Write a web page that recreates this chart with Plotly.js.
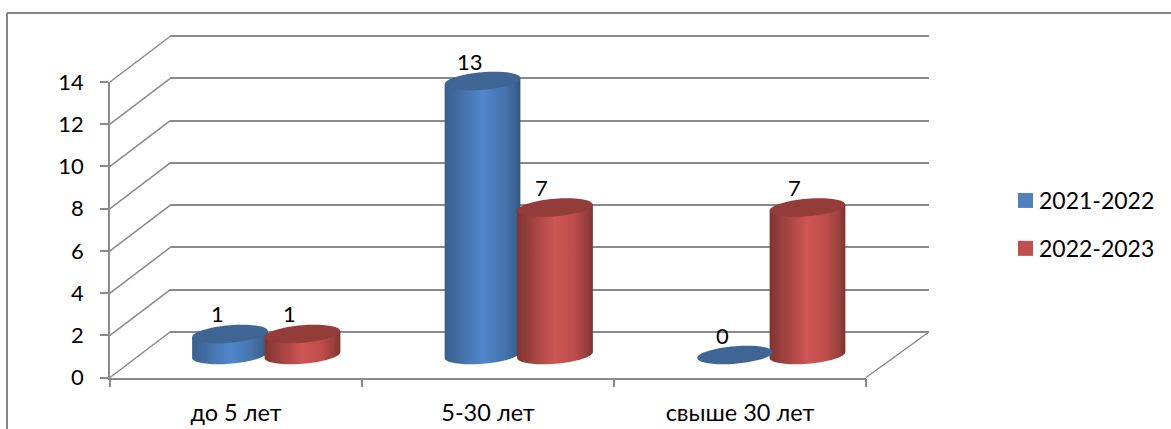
<!DOCTYPE html>
<html>
<head>
<meta charset="utf-8">
<script src="https://cdn.plot.ly/plotly-3.0.1.min.js"></script>
<style>html,body{margin:0;padding:0;background:#fff}#chart{width:1171px;height:429px}</style>
</head>
<body>
<div id="chart"></div>
<script>
const categories = ['до 5 лет', '5-30 лет', 'свыше 30 лет'];
const series2021 = [1, 13, 0];
const series2022 = [1, 7, 7];
const seriesNames = ['2021-2022', '2022-2023'];
const yTicks = [0, 2, 4, 6, 8, 10, 12, 14];

const W = 1171, H = 429, FONT = 'Lato, Carlito, sans-serif', GRAY = '#8a8a8a';
const dx = v => v / W, dy = v => (H - v) / H;
const BW = 0.30, OFF = 0.1435;           // bar width and half-spacing, category units
const TILT = 3, MINOR = 8.8;             // cylinder cap geometry, px
const K = 0.5523;

function fullCap(a) {                    // y is up in pixel-sized shapes
  const m = (u, v) => (a * u).toFixed(2) + ',' + (TILT * u + MINOR * v).toFixed(2);
  return 'M' + m(-1, 0) +
    'C' + m(-1, K) + ' ' + m(-K, 1) + ' ' + m(0, 1) +
    'C' + m(K, 1) + ' ' + m(1, K) + ' ' + m(1, 0) +
    'C' + m(1, -K) + ' ' + m(K, -1) + ' ' + m(0, -1) +
    'C' + m(-K, -1) + ' ' + m(-1, -K) + ' ' + m(-1, 0) + 'Z';
}

const traces = [
  {type: 'scatter', x: [], y: [], xaxis: 'x', yaxis: 'y', showlegend: false, hoverinfo: 'skip'},
  {type: 'scatter', x: [], y: [], xaxis: 'x2', yaxis: 'y2', showlegend: false, hoverinfo: 'skip'},
  {type: 'bar', name: seriesNames[0], x: categories, y: series2021, xaxis: 'x3', yaxis: 'y3',
   width: BW, offset: -OFF - BW / 2, marker: {color: '#4F81BD'}, cliponaxis: false, legendgroup: 'a'},
  {type: 'bar', name: seriesNames[1], x: categories, y: series2022, xaxis: 'x3', yaxis: 'y3',
   width: BW, offset: OFF - BW / 2, marker: {color: '#C0504D'}, cliponaxis: false, legendgroup: 'b'}
];

const shapes = [
  {type: 'line', xref: 'paper', yref: 'paper', x0: dx(7), x1: 1, y0: dy(13), y1: dy(13), line: {color: '#868686', width: 2}},
  {type: 'line', xref: 'paper', yref: 'paper', x0: dx(7), x1: dx(7), y0: dy(13), y1: 0, line: {color: '#868686', width: 2}},
  {type: 'line', xref: 'x', yref: 'y', xsizemode: 'pixel', ysizemode: 'pixel', xanchor: 2.5, yanchor: 0,
   x0: 0, x1: 63, y0: 0, y1: 45.5, layer: 'below', line: {color: GRAY, width: 1.5}}
];
yTicks.forEach(v => shapes.push({type: 'line', xref: 'x', yref: 'y', xsizemode: 'pixel', ysizemode: 'pixel',
  xanchor: -0.5, yanchor: v, x0: 0, x1: 60, y0: 0, y1: 45.5, layer: 'below', line: {color: GRAY, width: 1.5}}));

const annotations = [];
[[series2021, -OFF, '#3F6594'], [series2022, OFF, '#943C3A']].forEach(([vals, off, cap]) => {
  vals.forEach((v, i) => {
    shapes.push({type: 'path', xref: 'x3', yref: 'y3', xsizemode: 'pixel', ysizemode: 'pixel',
      xanchor: i + off, yanchor: v, path: fullCap(37.8), fillcolor: cap, line: {width: 0}});
    annotations.push({xref: 'x3', yref: 'y3', x: i + off, y: v, xshift: -13, yshift: 20, text: String(v),
      showarrow: false, font: {family: FONT, size: 22, color: '#000'}});
  });
});

const layout = {
  width: W, height: H, margin: {l: 0, r: 0, t: 0, b: 0},
  paper_bgcolor: '#fff', plot_bgcolor: 'rgba(0,0,0,0)',
  font: {family: FONT, size: 22, color: '#000'},
  barmode: 'overlay', showlegend: true, shapes, annotations,
  legend: {x: dx(1005), y: dy(179), xanchor: 'left', yanchor: 'top', bgcolor: 'rgba(0,0,0,0)',
           font: {family: FONT, size: 23, color: '#000'}, traceorder: 'grouped', tracegroupgap: 15, itemclick: false},
  xaxis: {domain: [dx(110), dx(866)], anchor: 'y', type: 'category', categoryarray: categories, categoryorder: 'array',
          range: [-0.5, 2.5], tickmode: 'array', tickvals: [0, 1, 2], ticktext: categories, tickson: 'boundaries',
          ticks: 'outside', ticklen: 8, tickwidth: 1.5, tickcolor: GRAY, showline: true, linecolor: GRAY, linewidth: 1.5,
          showgrid: false, zeroline: false, ticklabelstandoff: 14, tickfont: {family: FONT, size: 23.5}},
  yaxis: {domain: [dy(377.5), dy(82)], anchor: 'x', range: [0, 14], tickmode: 'array', tickvals: yTicks,
          ticks: 'outside', ticklen: 8, tickwidth: 1.5, tickcolor: GRAY, showline: true, linecolor: GRAY, linewidth: 1.5,
          showgrid: false, zeroline: false, ticklabelstandoff: 12, tickfont: {family: FONT, size: 22}},
  xaxis2: {domain: [dx(170), dx(929)], anchor: 'y2', range: [0, 1], showticklabels: false, ticks: '',
           showgrid: false, zeroline: false, showline: false},
  yaxis2: {domain: [dy(334.1), dy(33.9)], anchor: 'x2', range: [-0.1, 14.1], tickmode: 'array', tickvals: yTicks, showticklabels: false,
           ticks: '', showline: false, zeroline: false, showgrid: true, gridcolor: GRAY, gridwidth: 1.5},
  xaxis3: {domain: [dx(140), dx(897.5)], anchor: 'y3', type: 'category', categoryarray: categories, categoryorder: 'array',
           range: [-0.5, 2.5], visible: false},
  yaxis3: {domain: [dy(355), dy(60)], anchor: 'x3', range: [0, 14], visible: false}
};

function makeGradient(defs, id, stops) {
  const ns = 'http://www.w3.org/2000/svg';
  const g = document.createElementNS(ns, 'linearGradient');
  g.setAttribute('id', id);
  g.setAttribute('x1', '0'); g.setAttribute('x2', '1'); g.setAttribute('y1', '0'); g.setAttribute('y2', '0');
  stops.forEach(([o, c]) => {
    const s = document.createElementNS(ns, 'stop');
    s.setAttribute('offset', o); s.setAttribute('stop-color', c);
    g.appendChild(s);
  });
  defs.appendChild(g);
}

Plotly.newPlot('chart', traces, layout, {displayModeBar: false}).then(gd => {
  const svg = gd.querySelector('.main-svg');
  const defs = svg.querySelector('defs');
  makeGradient(defs, 'cylA', [[0, '#3A5F8C'], [0.25, '#4673AC'], [0.5, '#5087CC'], [0.78, '#4575AD'], [0.93, '#3B6491'], [1, '#345779']]);
  makeGradient(defs, 'cylB', [[0, '#803432'], [0.25, '#A84543'], [0.5, '#CE5654'], [0.75, '#BE4E4C'], [0.92, '#97403D'], [1, '#7E3331']]);
  // shapes may leave their subplot: the 3-D wall and the cylinder caps overhang the axes
  gd.querySelectorAll('.shapelayer path, .shapelayer g').forEach(p => p.removeAttribute('clip-path'));
  gd.querySelectorAll('.barlayer .trace.bars').forEach((tr, ti) => {
    tr.querySelectorAll('.point path').forEach(p => {
      const nums = (p.getAttribute('d') || '').match(/-?\d+(\.\d+)?/g);
      if (!nums || nums.length < 4) return;
      const xl = +nums[0], yb = +nums[1], yt = +nums[2], xr = +nums[3];
      if (Math.abs(yb - yt) < 0.5) return;
      const a = (xr - xl) / 2, cx = xl + a;
      const m = (u, v, yc) => (cx + a * u).toFixed(2) + ',' + (yc - TILT * u + MINOR * v).toFixed(2);
      const d = 'M' + m(-1, 0, yt) + 'L' + m(-1, 0, yb) +
        'C' + m(-1, K, yb) + ' ' + m(-K, 1, yb) + ' ' + m(0, 1, yb) +
        'C' + m(K, 1, yb) + ' ' + m(1, K, yb) + ' ' + m(1, 0, yb) +
        'L' + m(1, 0, yt) + 'Z';
      p.setAttribute('d', d);
      p.style.fill = 'url(#' + (ti === 0 ? 'cylA' : 'cylB') + ')';
      for (let n = p; n && n !== svg; n = n.parentNode) n.removeAttribute('clip-path');
    });
  });
  gd.querySelectorAll('.legend .traces').forEach(t => {
    const sym = t.querySelector('.legendpoints');
    if (sym) sym.setAttribute('transform', 'translate(-4.5,0) scale(1.25)');
    const bar = t.querySelector('.legendpoints path');
    if (bar) { bar.style.stroke = 'none'; bar.style.strokeWidth = '0'; }
    const txt = t.querySelector('text.legendtext');
    if (txt) txt.setAttribute('x', '34');
  });
});
</script>
</body>
</html>
